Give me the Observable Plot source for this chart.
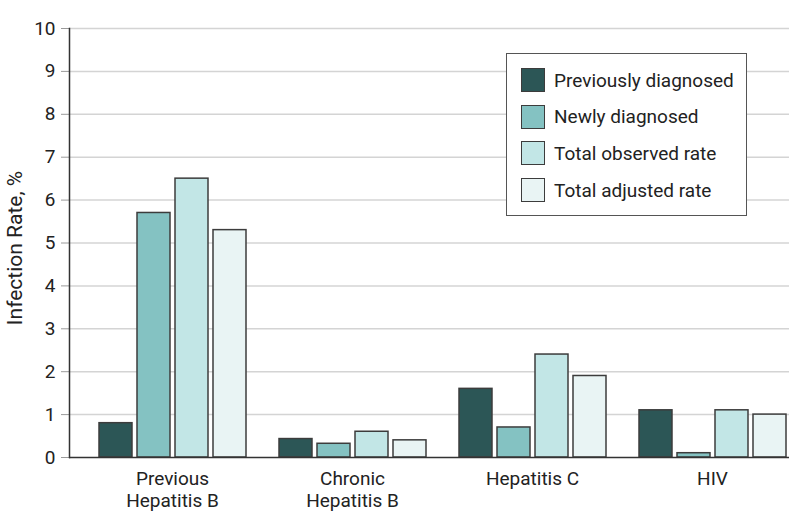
<!DOCTYPE html>
<html>
<head>
<meta charset="utf-8">
<script src="https://cdn.jsdelivr.net/npm/d3@7"></script>
<script src="https://cdn.jsdelivr.net/npm/@observablehq/plot@0.6"></script>
<style>
  html, body { margin: 0; padding: 0; background: #fff; }
  #wrap { position: relative; width: 798px; height: 532px; font-family: Roboto, "Noto Sans", sans-serif; color: #222; }
  #legend { position: absolute; left: 506px; top: 53px; width: 241px; height: 163px; border: 1.5px solid #555; background: #fff; box-sizing: border-box; }
  .row { position: absolute; left: 14px; height: 24px; display: flex; align-items: center; font-size: 19px; white-space: nowrap; }
  .sw { width: 24px; height: 24px; border: 1.5px solid #3c3c3c; box-sizing: border-box; margin-right: 9px; }
</style>
</head>
<body>
<div id="wrap"><div id="legend"></div></div>
<script>
const categories = ["Previous Hepatitis B", "Chronic Hepatitis B", "Hepatitis C", "HIV"];
const categoryLabels = ["Previous\nHepatitis B", "Chronic\nHepatitis B", "Hepatitis C", "HIV"];
const series = ["Previously diagnosed", "Newly diagnosed", "Total observed rate", "Total adjusted rate"];
const colors = ["#2c5656", "#84c2c2", "#c2e6e6", "#e9f4f4"];
const previouslyDiagnosed = [0.8, 0.43, 1.6, 1.1];
const newlyDiagnosed = [5.7, 0.32, 0.7, 0.1];
const totalObserved = [6.5, 0.6, 2.4, 1.1];
const totalAdjusted = [5.3, 0.4, 1.9, 1.0];
const yTicks = [0, 1, 2, 3, 4, 5, 6, 7, 8, 9, 10];
const yLabel = "Infection Rate, %";

const valuesBySeries = [previouslyDiagnosed, newlyDiagnosed, totalObserved, totalAdjusted];
const rows = [];
categories.forEach((c, i) => series.forEach((s, j) => rows.push({category: c, series: s, value: valuesBySeries[j][i]})));
const labelOf = new Map(categories.map((c, i) => [c, categoryLabels[i]]));

const chart = Plot.plot({
  width: 798,
  height: 532,
  marginTop: 28,
  marginBottom: 75,
  marginLeft: 67,
  marginRight: 8,
  style: {fontFamily: "Roboto, 'Noto Sans', sans-serif", fontSize: "19px", color: "#222", background: "#fff"},
  fx: {domain: categories, paddingInner: 0, paddingOuter: 0},
  x: {domain: series, paddingInner: 0.14, paddingOuter: 0.39, align: 0.9, axis: null},
  y: {domain: [0, 10]},
  color: {domain: series, range: colors},
  marks: [
    Plot.gridY(yTicks.filter(d => d > 0), {stroke: "#d4d4d4", strokeOpacity: 1, strokeWidth: 1.5}),
    Plot.axisY({ticks: yTicks, tickSize: 8, tickPadding: 6, fontSize: 19, stroke: "#9a9a9a", label: null}),
    Plot.text([yLabel], {text: d => d, frameAnchor: "left", textAnchor: "middle", lineAnchor: "middle", rotate: -90, dx: -54, dy: 5, fontSize: 21, fill: "#222", facetAnchor: "left"}),
    Plot.axisFx({anchor: "bottom", tickSize: 0, tickPadding: 12, dx: 13, fontSize: 19, lineHeight: 1.15, label: null, tickFormat: d => labelOf.get(d)}),
    Plot.barY(rows, {fx: "category", x: "series", y: "value", fill: "series", stroke: "#3c3c3c", strokeWidth: 1.5}),
    Plot.ruleY([0], {stroke: "#333", strokeWidth: 1.5}),
    Plot.frame({anchor: "left", facetAnchor: "left", stroke: "#333", strokeWidth: 1.5})
  ]
});
document.getElementById("wrap").prepend(chart);

const legend = document.getElementById("legend");
series.forEach((s, i) => {
  const row = document.createElement("div");
  row.className = "row";
  row.style.top = (14 + i * 36.7) + "px";
  const sw = document.createElement("div");
  sw.className = "sw";
  sw.style.background = colors[i];
  const t = document.createElement("span");
  t.textContent = s;
  row.appendChild(sw);
  row.appendChild(t);
  legend.appendChild(row);
});
</script>
</body>
</html>
